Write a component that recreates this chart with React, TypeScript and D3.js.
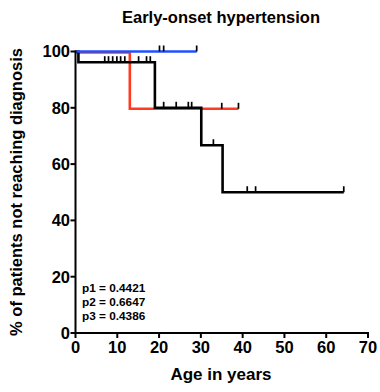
import React from "react";
import * as d3 from "d3";

// Step data: [time, survival %]
const blueSteps: [number, number][] = [[0, 100], [29, 100]];
const blueCensor: [number, number][] = [[20.1, 100], [21.1, 100], [29, 100]];
const redSteps: [number, number][] = [[0, 100], [13, 100], [13, 80], [39, 80]];
const redCensor: [number, number][] = [[35, 80], [39, 80]];
const blackSteps: [number, number][] = [
  [0, 100], [0.7, 100], [0.7, 96.2], [19, 96.2], [19, 80], [30.1, 80],
  [30.1, 66.7], [35.2, 66.7], [35.2, 50], [64.2, 50],
];
const blackCensor: [number, number][] = [
  [7.0, 96.2], [7.9, 96.2], [8.9, 96.2], [9.9, 96.2], [10.8, 96.2], [11.8, 96.2],
  [15.1, 96.2], [17.0, 96.2], [17.9, 96.2],
  [21.1, 80], [24.1, 80], [27.0, 80], [27.8, 80],
  [33.0, 66.7], [41.1, 50], [43.1, 50], [64.2, 50],
];
const xTicks = [0, 10, 20, 30, 40, 50, 60, 70];
const yTicks = [0, 20, 40, 60, 80, 100];
const pLabels = ["p1 = 0.4421", "p2 = 0.6647", "p3 = 0.4386"];

export default function App() {
  const x = d3.scaleLinear().domain([0, 70]).range([75.5, 368]);
  const y = d3.scaleLinear().domain([0, 100]).range([333, 51.5]);
  const line = d3.line<[number, number]>().x(d => x(d[0])).y(d => y(d[1]));
  const font = "Liberation Sans, Arial, sans-serif";
  const series = [
    { steps: redSteps, censor: redCensor, color: "#ff3a1f", dy: 1 },
    { steps: blackSteps, censor: blackCensor, color: "#000000", dy: 0 },
    { steps: blueSteps, censor: blueCensor, color: "#2050ff", dy: 0 },
  ];
  return (
    <div style={{ position: "absolute", left: 0, top: 0 }}>
      <svg width={380} height={392} style={{ display: "block" }} fontFamily={font}>
        <rect width={380} height={392} fill="#fff" />
        <text x={221} y={22.5} textAnchor="middle" fontSize={16.5} fontWeight="bold">Early-onset hypertension</text>
        {series.map((s, i) => (
          <g key={i} transform={`translate(0,${s.dy})`}>
            <path d={line(s.steps) || ""} fill="none" stroke={s.color} strokeWidth={2.6} />
            {s.censor.map((c, j) => (
              <line key={j} x1={x(c[0])} x2={x(c[0])} y1={y(c[1])} y2={y(c[1]) - 6} stroke="#000" strokeWidth={1.7} />
            ))}
          </g>
        ))}
        {/* axes */}
        <line x1={x(0)} x2={x(0)} y1={y(100) - 1} y2={y(0) + 1} stroke="#000" strokeWidth={2} />
        <line x1={x(0) - 1} x2={x(70) + 1} y1={y(0)} y2={y(0)} stroke="#000" strokeWidth={2} />
        {yTicks.map(t => (
          <g key={t}>
            <line x1={x(0) - 5} x2={x(0)} y1={y(t)} y2={y(t)} stroke="#000" strokeWidth={2} />
            <text x={x(0) - 5.5} y={y(t)} dy="0.36em" textAnchor="end" fontSize={16.5} fontWeight="bold">{t}</text>
          </g>
        ))}
        {xTicks.map(t => (
          <g key={t}>
            <line x1={x(t)} x2={x(t)} y1={y(0)} y2={y(0) + 5} stroke="#000" strokeWidth={2} />
            <text x={x(t)} y={353} textAnchor="middle" fontSize={16.5} fontWeight="bold">{t}</text>
          </g>
        ))}
        <text x={221} y={380} textAnchor="middle" fontSize={17} fontWeight="bold">Age in years</text>
        <text transform={`translate(22,192) rotate(-90)`} textAnchor="middle" fontSize={16.5} fontWeight="bold">% of patients not reaching diagnosis</text>
        {pLabels.map((p, i) => (
          <text key={i} x={82} y={291.7 + i * 14.2} fontSize={11.8} fontWeight="bold">{p}</text>
        ))}
      </svg>
    </div>
  );
}
